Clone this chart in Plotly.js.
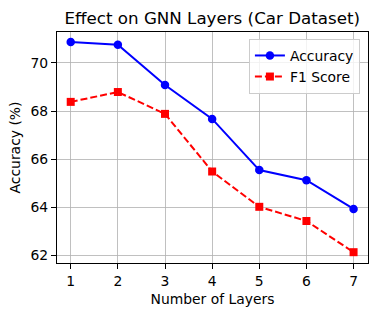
<!DOCTYPE html>
<html>
<head>
<meta charset="utf-8">
<script src="https://cdn.plot.ly/plotly-3.0.1.min.js"></script>
<style>html,body{margin:0;padding:0;background:#fff;}#chart{width:377px;height:316px;}</style>
</head>
<body>
<div id="chart"></div>
<script>
const layers = [1, 2, 3, 4, 5, 6, 7];
const accuracy = [70.87, 70.76, 69.08, 67.67, 65.54, 65.12, 63.92];
const f1Score = [68.38, 68.79, 67.88, 65.48, 64.01, 63.42, 62.12];
const yTicks = [62, 64, 66, 68, 70];

const fam = 'DejaVu Sans, sans-serif';
const fs = 13.9;

const traces = [
  {x: layers, y: accuracy, name: 'Accuracy', mode: 'lines+markers', type: 'scatter',
   line: {color: '#0000ff', width: 2}, marker: {color: '#0000ff', size: 8.5, symbol: 'circle'}},
  {x: layers, y: f1Score, name: 'F1 Score', mode: 'lines+markers', type: 'scatter',
   line: {color: '#ff0000', width: 2, dash: '7px,3px'}, marker: {color: '#ff0000', size: 8, symbol: 'square'}}
];

const axisCommon = {
  showgrid: true, gridcolor: '#b0b0b0', gridwidth: 0.8,
  showline: true, linecolor: '#000', linewidth: 1, mirror: true,
  ticks: 'outside', ticklen: 5, tickcolor: '#000', tickwidth: 1,
  zeroline: false, tickfont: {family: fam, size: fs, color: '#000'}
};

const layout = {
  width: 377, height: 316,
  margin: {l: 57, r: 9, t: 32, b: 53},
  paper_bgcolor: '#fff', plot_bgcolor: '#fff',
  font: {family: fam, size: fs, color: '#000'},
  title: {text: 'Effect on GNN Layers (Car Dataset)', font: {family: fam, size: 16.7, color: '#000'},
          x: 0.563, xanchor: 'center', y: 0.943, yanchor: 'middle'},
  xaxis: Object.assign({}, axisCommon, {
    range: [0.709, 7.306], tickvals: layers, ticktext: layers.map(String),
    title: {text: 'Number of Layers', font: {family: fam, size: fs, color: '#000'}, standoff: 6}
  }),
  yaxis: Object.assign({}, axisCommon, {
    range: [61.67, 71.29], tickvals: yTicks, ticktext: yTicks.map(String),
    title: {text: 'Accuracy (%)', font: {family: fam, size: fs, color: '#000'}, standoff: 6}
  }),
  showlegend: true,
  legend: {x: 0.974, xanchor: 'right', y: 0.97, yanchor: 'top',
           bgcolor: 'rgba(255,255,255,0.8)', bordercolor: '#cccccc', borderwidth: 1,
           font: {family: fam, size: fs, color: '#000'}, tracegroupgap: 0}
};

Plotly.newPlot('chart', traces, layout, {displayModeBar: false, staticPlot: true});
</script>
</body>
</html>
